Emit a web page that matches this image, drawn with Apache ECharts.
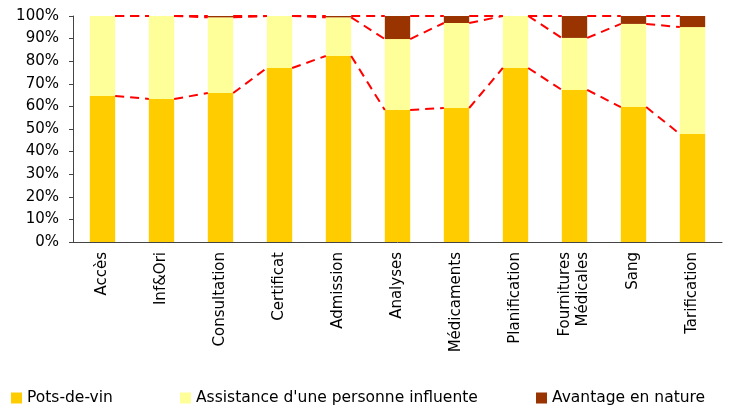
<!DOCTYPE html>
<html lang="fr">
<head>
    <meta charset="UTF-8">
    <title>corruption</title>
    <script src="https://cdn.jsdelivr.net/npm/echarts@6/dist/echarts.min.js"></script>
    <style>
        html, body { margin: 0; padding: 0; background: #fff; }
    </style>
</head>
<body>
<div id="main" style="width: 730px; height: 407px;"></div>
<script>
    // categories et valeurs (en %)
    var categories = ['Accès', 'Inf&Ori', 'Consultation', 'Certificat', 'Admission', 'Analyses',
        'Médicaments', 'Planification', 'Fournitures\nMédicales', 'Sang', 'Tarification'];
    var potsDeVin = [64.6, 63.3, 65.9, 77.0, 82.3, 58.4, 59.3, 77.0, 67.3, 59.7, 47.8];
    var assistance = [35.4, 36.7, 33.5, 23.0, 17.1, 31.4, 37.6, 23.0, 23.0, 36.8, 47.3];
    var avantage = [0, 0, 0.6, 0, 0.6, 10.2, 3.1, 0, 9.7, 3.5, 4.9];
    var yTicks = [0, 10, 20, 30, 40, 50, 60, 70, 80, 90, 100];
    var seriesNames = ['Pots-de-vin', "Assistance d'une personne influente", 'Avantage en nature'];

    var barPct = 0.43;
    var font = 'DejaVu Sans';

    // cumuls pour les lignes de séries
    var cum1 = [], cum2 = [], cum3 = [];
    for (var i = 0; i < categories.length; i++) {
        cum1.push(potsDeVin[i]);
        cum2.push(potsDeVin[i] + assistance[i]);
        cum3.push(potsDeVin[i] + assistance[i] + avantage[i]);
    }

    function seriesLineData(cum) {
        var out = [];
        for (var i = 0; i < cum.length - 1; i++) {
            out.push([i, cum[i], cum[i + 1]]);
        }
        return out;
    }

    // trait pointillé entre le bord droit d'une barre et le bord gauche de la suivante
    function renderSeriesLine(params, api) {
        var i = api.value(0);
        var bw = api.size([1, 0])[0] * barPct;
        var p1 = api.coord([i, api.value(1)]);
        var p2 = api.coord([i + 1, api.value(2)]);
        return {
            type: 'line',
            shape: {x1: p1[0] + bw / 2, y1: p1[1], x2: p2[0] - bw / 2, y2: p2[1]},
            style: {stroke: '#ff0000', lineWidth: 2, lineDash: [9, 6]}
        };
    }

    function legendAt(name, left) {
        return {
            data: [name],
            left: left,
            top: 390,
            padding: 0,
            icon: 'rect',
            itemWidth: 11,
            itemHeight: 11,
            textStyle: {fontFamily: font, fontSize: 15.5, color: '#000', padding: [0, 0, 0, 0]}
        };
    }

    var myChart = echarts.init(document.getElementById('main'));

    var option = {
        animation: false,
        textStyle: {fontFamily: font, color: '#000'},
        grid: {left: 73, right: 8, top: 16, bottom: 165},
        legend: [
            legendAt(seriesNames[0], 11),
            legendAt(seriesNames[1], 180),
            legendAt(seriesNames[2], 536)
        ],
        xAxis: {
            type: 'category',
            data: categories,
            axisLine: {lineStyle: {color: '#444'}},
            axisTick: {length: 5, lineStyle: {color: '#444'}},
            axisLabel: {rotate: 90, interval: 0, fontSize: 15, color: '#000', fontFamily: font, margin: 10, lineHeight: 18}
        },
        yAxis: {
            type: 'value',
            min: yTicks[0],
            max: yTicks[yTicks.length - 1],
            interval: 10,
            axisLine: {show: true, lineStyle: {color: '#444'}},
            axisTick: {show: true, length: 4, lineStyle: {color: '#444'}},
            splitLine: {show: false},
            axisLabel: {formatter: '{value}%', fontSize: 15, color: '#000', fontFamily: font, margin: 14}
        },
        series: [
            {name: seriesNames[0], type: 'bar', stack: 'tot', barWidth: (barPct * 100) + '%',
                itemStyle: {color: '#ffcc00'}, data: potsDeVin},
            {name: seriesNames[1], type: 'bar', stack: 'tot',
                itemStyle: {color: '#ffff99'}, data: assistance},
            {name: seriesNames[2], type: 'bar', stack: 'tot',
                itemStyle: {color: '#993300'}, data: avantage},
            {type: 'custom', renderItem: renderSeriesLine, data: seriesLineData(cum1), z: 5},
            {type: 'custom', renderItem: renderSeriesLine, data: seriesLineData(cum2), z: 5},
            {type: 'custom', renderItem: renderSeriesLine, data: seriesLineData(cum3), z: 5}
        ]
    };

    myChart.setOption(option);
</script>
</body>
</html>
